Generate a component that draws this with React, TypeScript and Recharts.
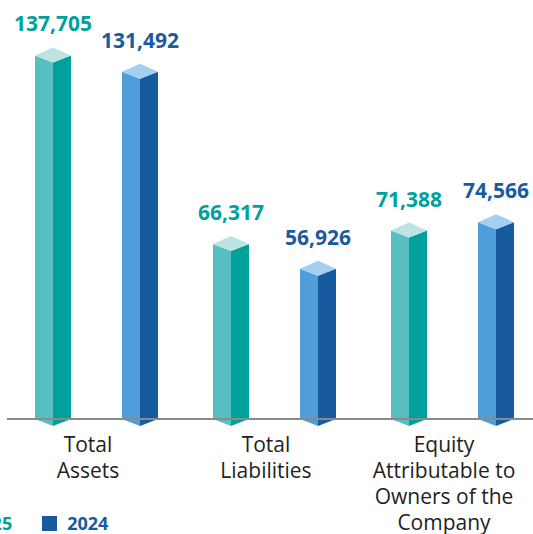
import React from "react";
import { BarChart, Bar, XAxis, YAxis, LabelList, Legend } from "recharts";

const categories = ["Total\nAssets", "Total\nLiabilities", "Equity\nAttributable to\nOwners of the\nCompany"];
const values2025 = [137705, 66317, 71388];
const values2024 = [131492, 56926, 74566];

const data = categories.map((c, i) => ({ name: c, y2025: values2025[i], y2024: values2024[i] }));

const FONT = "'Open Sans', 'Noto Sans', sans-serif";

const palette = {
  y2025: { left: "#57bfbf", right: "#00a19d", top: "#bfe3e2", text: "#00a19d" },
  y2024: { left: "#4f9ed9", right: "#175aa0", top: "#a3d0f0", text: "#1a5ba0" },
};

// 3D prism-looking bar
const prism = (key: "y2025" | "y2024") => (props: any) => {
  const { x, y, width, height } = props;
  if (height == null || width == null) return null;
  const c = palette[key];
  const mid = x + width / 2;
  const bot = y + height;
  const d = 7;
  return (
    <g>
      <polygon points={`${x},${y} ${mid},${y + d} ${mid},${bot + d} ${x},${bot}`} fill={c.left} />
      <polygon points={`${mid},${y + d} ${x + width},${y} ${x + width},${bot} ${mid},${bot + d}`} fill={c.right} />
      <polygon points={`${x},${y} ${mid},${y - d - 1} ${x + width},${y} ${mid},${y + d}`} fill={c.top} />
    </g>
  );
};

const valueLabel = (key: "y2025" | "y2024") => (props: any) => {
  const { x, y, width, value } = props;
  return (
    <text x={x + width / 2} y={y - 24} textAnchor="middle" fill={palette[key].text}
      fontFamily={FONT} fontWeight={700} fontSize={21}>
      {Number(value).toLocaleString("en-US")}
    </text>
  );
};

const CategoryTick = ({ x, y, payload }: any) => {
  const lines = String(payload.value).split("\n");
  const cx = x - 8;
  return (
    <text x={cx} y={y} textAnchor="middle" fill="#231f20" fontFamily={FONT} fontSize={21}>
      {lines.map((l, i) => (
        <tspan key={i} x={cx} dy={i === 0 ? 25 : 26}>{l}</tspan>
      ))}
    </text>
  );
};

const LegendContent = () => (
  <div style={{ display: "flex", alignItems: "center", fontFamily: FONT, fontWeight: 700, fontSize: 18 }}>
    {[["2025", palette.y2025.right], ["2024", palette.y2024.right]].map(([label, color]) => (
      <div key={label} style={{ display: "flex", alignItems: "center", marginRight: 30 }}>
        <div style={{ width: 15, height: 15, background: color, marginRight: 10 }} />
        <span style={{ color }}>{label}</span>
      </div>
    ))}
  </div>
);

export default function App() {
  return (
    <div style={{ position: "absolute", left: 0, top: 0, width: 533, height: 534, overflow: "hidden", background: "#fff" }}>
      <BarChart width={541} height={534} data={data} barSize={36} barGap={51}
        margin={{ top: 23, right: 0, left: 7, bottom: 0 }}>
        <XAxis dataKey="name" height={115} axisLine={{ stroke: "#8a8a8a", strokeWidth: 2 }}
          tickLine={false} interval={0} tick={<CategoryTick />} />
        <YAxis hide domain={[0, 150000]} />
        <Legend verticalAlign="middle" align="center" layout="horizontal" content={<LegendContent />}
          wrapperStyle={{ left: -54, top: 511, width: 300 }} />
        <Bar dataKey="y2025" name="2025" isAnimationActive={false} shape={prism("y2025")}>
          <LabelList dataKey="y2025" content={valueLabel("y2025")} />
        </Bar>
        <Bar dataKey="y2024" name="2024" isAnimationActive={false} shape={prism("y2024")}>
          <LabelList dataKey="y2024" content={valueLabel("y2024")} />
        </Bar>
      </BarChart>
    </div>
  );
}
